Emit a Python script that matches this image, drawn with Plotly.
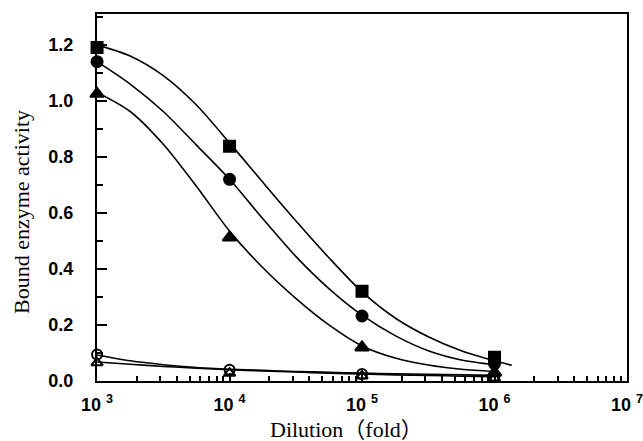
import plotly.graph_objects as go

# Measured points
dilution = [1e3, 1e4, 1e5, 1e6]
sq_filled = [1.19, 0.838, 0.32, 0.085]
ci_filled = [1.14, 0.72, 0.232, 0.062]
tr_filled = [1.025, 0.512, 0.12, 0.03]
ci_open = [0.095, 0.04, 0.025, 0.018]
tr_open = [0.065, 0.028, 0.018, 0.01]

# Fitted curves (quarter-decade steps)
curve_x = [1e3, 1778, 3162, 5623, 1e4, 17783, 31623, 56234, 1e5, 177828, 316228, 562341, 1e6]
curve_x_sq = curve_x + [1.35e6]
sq_curve = [1.20, 1.16, 1.09, 0.985, 0.85, 0.71, 0.572, 0.44, 0.318, 0.225, 0.158, 0.108, 0.072, 0.056]
ci_curve = [1.14, 1.06, 0.962, 0.842, 0.72, 0.58, 0.445, 0.33, 0.235, 0.162, 0.108, 0.075, 0.058]
tr_curve = [1.03, 0.962, 0.845, 0.695, 0.535, 0.405, 0.295, 0.20, 0.125, 0.082, 0.057, 0.042, 0.034]
ci_open_curve = [0.093, 0.072, 0.058, 0.048, 0.042, 0.038, 0.034, 0.031, 0.028, 0.026, 0.024, 0.022, 0.02]
tr_open_curve = [0.068, 0.060, 0.052, 0.046, 0.040, 0.036, 0.032, 0.028, 0.025, 0.022, 0.020, 0.017, 0.015]

x_tickvals = [1e3, 1e4, 1e5, 1e6, 1e7]
x_ticktext = ["10 <sup>3</sup>", "10 <sup>4</sup>", "10 <sup>5</sup>", "10 <sup>6</sup>", "10 <sup>7</sup>"]
y_tickvals = [0.0, 0.2, 0.4, 0.6, 0.8, 1.0, 1.2]
x_title = "Dilution（fold）"
y_title = "Bound enzyme activity"

fig = go.Figure()

line_style = dict(color="black", width=1.6, shape="spline", smoothing=0.8)
for cx, cy in [(curve_x_sq, sq_curve), (curve_x, ci_curve), (curve_x, tr_curve),
               (curve_x, ci_open_curve), (curve_x, tr_open_curve)]:
    fig.add_trace(go.Scatter(x=cx, y=cy, mode="lines", line=line_style,
                             showlegend=False, hoverinfo="skip", cliponaxis=False))

marker_sets = [
    (sq_filled, "square", 11),
    (ci_filled, "circle", 11),
    (tr_filled, "triangle-up", 12),
    (ci_open, "circle-open", 10),
    (tr_open, "triangle-up-open", 10),
]
for ys, sym, sz in marker_sets:
    fig.add_trace(go.Scatter(
        x=dilution, y=ys, mode="markers",
        marker=dict(symbol=sym, size=sz, color="black",
                    line=dict(color="black", width=2)),
        showlegend=False, cliponaxis=False))

fig.update_layout(
    width=643, height=441,
    margin=dict(l=97, r=16, t=14, b=60, autoexpand=False),
    paper_bgcolor="white", plot_bgcolor="white",
    font=dict(family="Liberation Sans", color="black"),
    annotations=[
        dict(text=x_title, xref="paper", yref="paper", x=(346 - 97) / 530, y=-(429 - 381) / 367,
             xanchor="center", yanchor="middle", showarrow=False,
             font=dict(family="Liberation Serif, Noto Sans CJK JP", size=22)),
        dict(text=y_title, xref="paper", yref="paper", x=-(97 - 21) / 530, y=(381 - 212) / 367,
             xanchor="center", yanchor="middle", showarrow=False, textangle=-90,
             font=dict(family="Liberation Serif", size=22)),
    ],
)

fig.update_xaxes(
    type="log", range=[2.9995, 7],
    tickvals=x_tickvals, ticktext=x_ticktext,
    ticks="inside", ticklen=8, tickwidth=2, tickcolor="black",
    minor=dict(ticks="inside", ticklen=5, tickwidth=1.5, tickcolor="black", dtick="D1"),
    showline=True, linecolor="black", linewidth=2, mirror=True,
    showgrid=False, zeroline=False, automargin=False, ticklabelstandoff=6,
    ticklabeloverflow="allow",
    tickfont=dict(family="Liberation Sans", size=18, weight="bold"),
)

fig.update_yaxes(
    range=[0, 1.31],
    tickvals=y_tickvals, tickformat=".1f",
    ticks="inside", ticklen=10, tickwidth=2, tickcolor="black",
    minor=dict(ticks="inside", ticklen=6, tickwidth=1.5, tickcolor="black", dtick=0.1),
    showline=True, linecolor="black", linewidth=2, mirror=True,
    showgrid=False, zeroline=False, automargin=False, ticklabelstandoff=18,
    ticklabeloverflow="allow",
    tickfont=dict(family="Liberation Sans", size=18, weight="bold"),
)

fig.write_html("out.html", config={"displayModeBar": False},
               post_script="document.body.style.margin='0';document.body.style.overflow='hidden';")
